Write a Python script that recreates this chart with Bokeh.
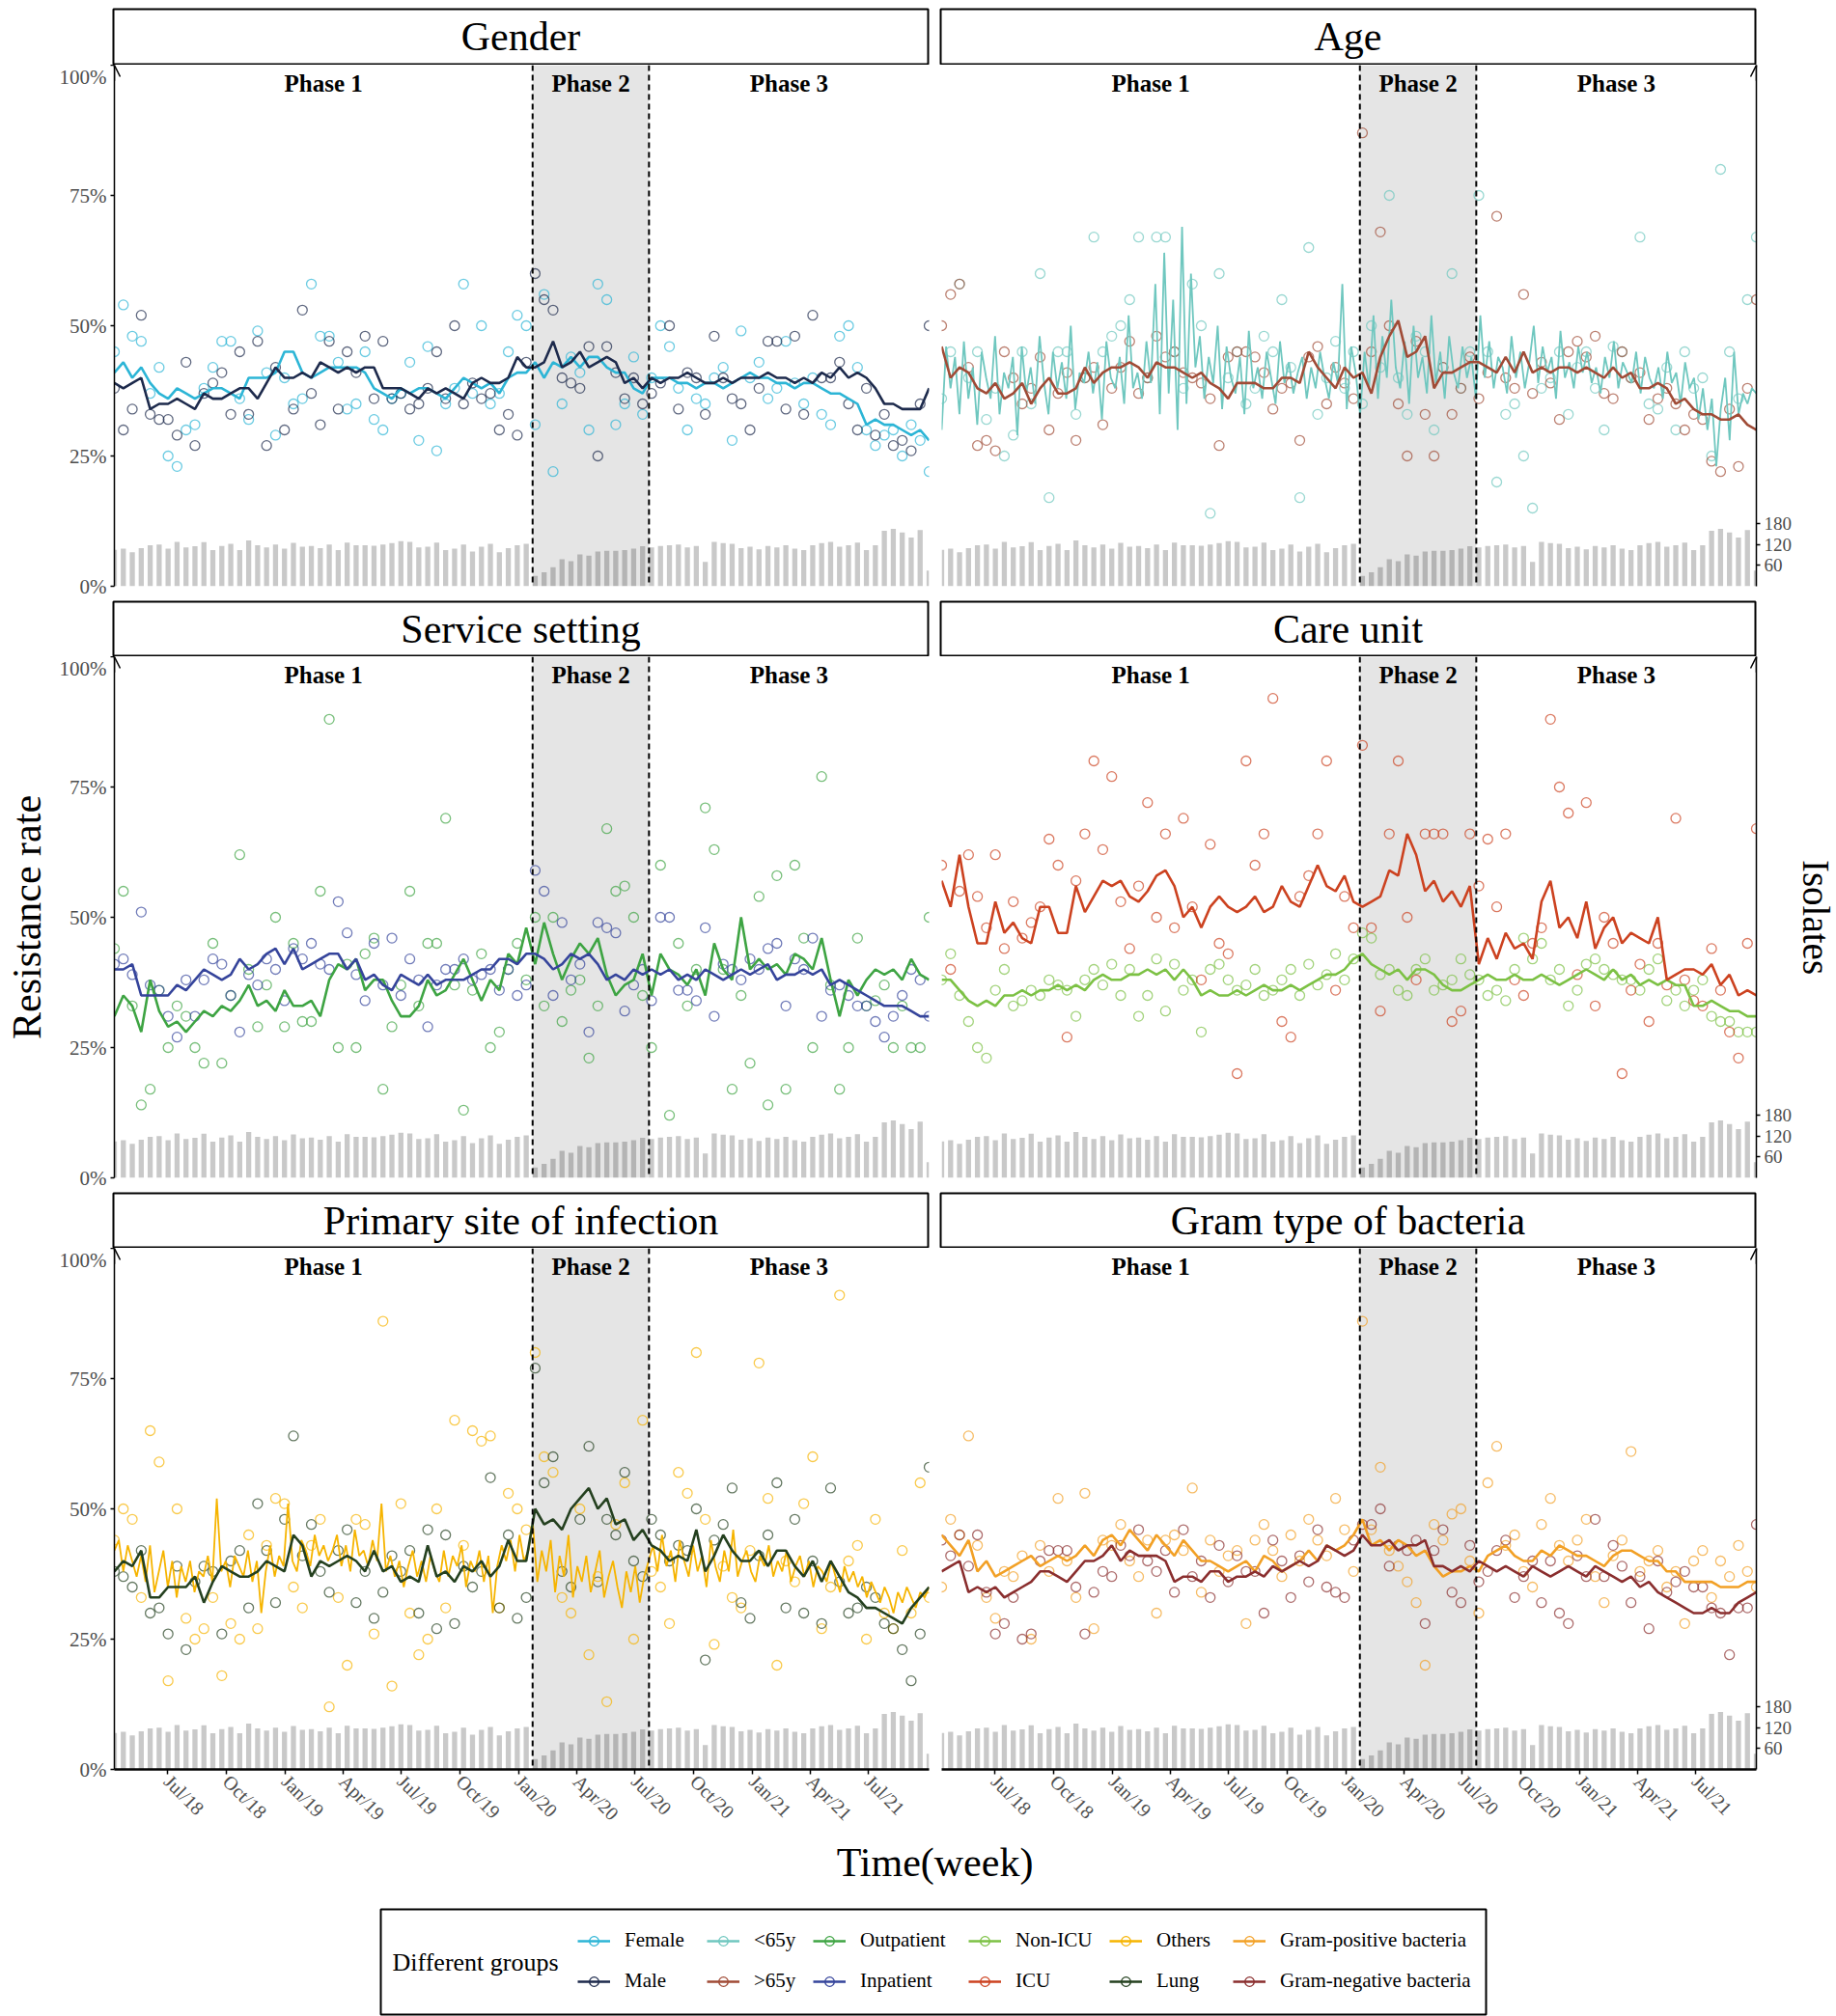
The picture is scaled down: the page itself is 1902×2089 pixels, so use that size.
import math
import pandas as pd
from bokeh.plotting import figure
from bokeh.layouts import row, column
from bokeh.models import (Range1d, LinearAxis, FixedTicker, Span, Arrow, OpenHead, Label,
                          Legend, LegendItem, NumeralTickFormatter, DatetimeTickFormatter,
                          BoxAnnotation, ColumnDataSource)
from bokeh.core.properties import value
from bokeh.embed import file_html
from bokeh.resources import INLINE

FONT = "Liberation Serif"

# ---------------- time axis ----------------
START_DATE = "2018-04-09"
N_PERIODS = 92            # two-week periods
PHASE2_START = "2020-01-23"
PHASE2_END = "2020-07-23"
PHASE_NAMES = ["Phase 1", "Phase 2", "Phase 3"]
TICK_DATES = ["2018-07-01", "2018-10-01", "2019-01-01", "2019-04-01", "2019-07-01",
              "2019-10-01", "2020-01-01", "2020-04-01", "2020-07-01", "2020-10-01",
              "2021-01-01", "2021-04-01", "2021-07-01"]
RATE_TICKS = [0, 0.25, 0.5, 0.75, 1.0]
ISOLATE_TICKS = [60, 120, 180]
ISOLATE_MAX = 1500

# ---------------- isolates (bars, shared) ----------------
BARS = ([105, 108, 98, 110, 118, 120, 108, 128, 112, 115,
         127, 104, 116, 122, 104, 132, 118, 112, 120, 108,
         125, 114, 116, 110, 120, 104, 126, 118, 118, 117,
         120, 124, 130, 128, 112, 114, 126, 104, 108, 120,
         100, 114, 122, 98, 110, 118, 122]
        + [30, 40, 55, 78, 72, 92, 88, 100, 102, 102, 104, 108, 115]
        + [112, 116, 118, 120, 112, 116, 70, 128, 124, 122,
           110, 114, 106, 116, 112, 118, 108, 104, 118, 124,
           128, 114, 118, 126, 104, 118, 160, 165, 155, 140,
           162, 45])

# ---------------- Gender ----------------
FEMALE_LINE = ([41, 43, 40, 42, 39, 37, 36, 38, 37, 36, 37, 38, 38, 37, 36, 40, 40, 40, 41, 45,
                45, 41, 40, 41, 42, 42, 42, 42, 41, 38, 37, 36, 38, 37, 38, 38, 37, 36, 38, 40,
                39, 38, 39, 37, 40, 41, 41]
               + [43, 40, 43, 42, 44, 42, 44, 44, 42, 41, 41, 38, 37]
               + [40, 40, 40, 39, 39, 38, 39, 39, 38, 39, 40, 41, 40, 40, 39, 39, 38, 39, 39, 38,
                  37, 37, 36, 35, 31, 32, 31, 31, 30, 29, 30, 28])
MALE_LINE = ([39, 38, 39, 40, 34, 35, 35, 36, 35, 34, 37, 36, 36, 37, 38, 38, 36, 39, 42, 40,
              40, 41, 40, 43, 42, 41, 42, 41, 42, 42, 38, 38, 38, 37, 36, 38, 37, 38, 37, 36,
              39, 40, 39, 39, 40, 44, 42]
             + [42, 43, 47, 42, 43, 45, 42, 43, 44, 43, 39, 40, 38]
             + [40, 39, 40, 40, 41, 40, 39, 39, 40, 39, 40, 40, 40, 41, 40, 40, 39, 40, 39, 41,
                40, 42, 40, 41, 40, 38, 35, 35, 34, 34, 34, 38])
FEMALE_PTS = ([45, 54, 48, 47, 37, 42, 25, 23, 30, 31, 38, 42, 47, 47, 36, 32, 49, 41, 29, 40,
               35, 36, 58, 48, 48, 43, 34, 35, 45, 32, 30, 36, 37, 43, 28, 46, 26, 35, 38, 58,
               37, 50, 35, 37, 45, 52, 50]
              + [31, 56, 22, 35, 44, 41, 30, 58, 55, 31, 35, 44, 33]
              + [40, 50, 46, 38, 30, 36, 35, 40, 42, 28, 49, 40, 43, 36, 38, 47, 39, 35, 40, 33,
                 31, 48, 50, 42, 30, 27, 29, 30, 25, 31, 28, 22])
MALE_PTS = ([38, 30, 34, 52, 33, 32, 32, 29, 43, 27, 37, 39, 41, 33, 45, 33, 47, 27, 42, 30,
             34, 53, 37, 31, 47, 34, 45, 41, 48, 36, 47, 36, 37, 34, 35, 38, 45, 36, 50, 35,
             39, 36, 37, 30, 33, 29, 43]
            + [60, 55, 53, 40, 39, 38, 46, 25, 46, 41, 36, 40, 35]
            + [37, 39, 50, 34, 41, 40, 33, 48, 40, 36, 35, 30, 38, 47, 47, 34, 48, 33, 52, 40,
               40, 43, 35, 30, 38, 29, 33, 27, 28, 26, 35, 50])

# ---------------- Age ----------------
LT65_LINE_WEEKLY = ([30, 46, 38, 44, 33, 47, 36, 42, 31, 45, 40, 36, 48, 33, 41, 38, 44, 29, 46, 37,
                     42, 35, 48, 39, 33, 45, 38, 43, 36, 50, 34, 41, 39, 45, 37, 43, 32, 47, 40, 38,
                     44, 35, 52, 38, 41, 36, 47, 39, 58, 33, 64, 37, 55, 30, 69, 35, 60, 42, 48, 36,
                     44, 39, 50, 34, 46, 40, 37, 44, 33, 49, 38, 42, 36, 45, 40, 35, 47, 39, 43, 37,
                     41, 44, 36, 42, 38, 45, 40, 36, 43, 39, 58, 34, 46, 41]
                    + [33, 45, 38, 52, 36, 48, 40, 55, 42, 38, 47, 35, 50, 40, 44, 37, 52, 39, 45, 36,
                       48, 41, 38, 46, 40, 44]
                    + [36, 52, 40, 47, 38, 44, 42, 37, 48, 40, 45, 38, 43, 50, 39, 46, 41, 44, 36, 49,
                       40, 43, 38, 46, 41, 45, 39, 42, 37, 44, 40, 47, 38, 43, 41, 39, 45, 37, 44, 40,
                       38, 42, 36, 45, 39, 41, 35, 43, 38, 40, 32, 38, 30, 36, 23, 34, 40, 28, 45, 33,
                       37, 35, 38, 37])
GT65_LINE = ([46, 40, 42, 41, 38, 37, 39, 36, 37, 39, 35, 38, 40, 37, 37, 38, 42, 39, 41, 42,
              42, 43, 42, 40, 43, 42, 42, 41, 40, 41, 39, 38, 36, 39, 39, 39, 38, 38, 40, 40,
              39, 45, 42, 40, 38, 42, 40]
             + [41, 37, 44, 48, 51, 44, 45, 48, 38, 41, 41, 42, 43]
             + [43, 42, 41, 44, 41, 45, 41, 42, 41, 42, 42, 41, 42, 41, 40, 42, 40, 41, 38, 38,
                39, 38, 35, 36, 34, 33, 33, 32, 32, 33, 31, 30])
LT65_PTS = ([36, 45, 58, 40, 45, 32, 38, 25, 29, 45, 35, 60, 17, 45, 45, 33, 40, 67, 45, 48,
             50, 55, 67, 40, 67, 67, 45, 38, 58, 50, 14, 60, 40, 45, 35, 38, 48, 45, 55, 42,
             17, 65, 33, 40, 47, 38, 45]
            + [35, 50, 42, 75, 40, 33, 48, 45, 30, 42, 60, 38, 45]
            + [75, 45, 20, 33, 35, 25, 15, 38, 40, 45, 33, 42, 45, 38, 30, 46, 45, 40, 67, 35,
               34, 42, 30, 45, 38, 40, 25, 80, 45, 36, 55, 67])
GT65_PTS = ([50, 56, 58, 42, 27, 28, 26, 45, 40, 35, 38, 44, 30, 37, 41, 28, 40, 42, 31, 38,
             42, 47, 37, 40, 48, 44, 45, 41, 40, 39, 36, 27, 44, 45, 45, 44, 41, 34, 38, 39,
             28, 44, 46, 35, 42, 39, 36]
            + [87, 45, 68, 50, 35, 25, 47, 33, 25, 42, 33, 38, 44]
            + [36, 41, 71, 40, 38, 56, 37, 43, 39, 32, 45, 47, 44, 48, 37, 36, 45, 40, 41, 32,
               36, 38, 35, 30, 33, 32, 24, 22, 34, 23, 38, 55])

# ---------------- Service setting ----------------
OUTPATIENT_LINE = ([31, 35, 33, 28, 38, 32, 29, 30, 28, 30, 32, 31, 33, 32, 34, 37, 33, 34, 32, 36,
                    33, 33, 34, 31, 38, 41, 40, 42, 36, 38, 38, 34, 31, 31, 33, 38, 35, 36, 39, 42,
                    38, 34, 38, 36, 43, 41, 48]
                   + [41, 49, 43, 38, 42, 45, 43, 46, 39, 35, 37, 38, 43]
                   + [35, 43, 40, 39, 37, 40, 35, 45, 40, 38, 50, 40, 42, 40, 41, 39, 43, 42, 40, 46,
                      38, 31, 38, 35, 38, 40, 39, 40, 38, 42, 39, 38])
INPATIENT_LINE = ([40, 40, 41, 35, 35, 35, 35, 37, 36, 38, 40, 39, 38, 39, 42, 40, 41, 43, 44, 41,
                   44, 40, 41, 42, 43, 43, 40, 42, 38, 39, 37, 36, 39, 38, 37, 39, 37, 38, 38, 38,
                   39, 40, 40, 42, 42, 41, 43]
                  + [43, 42, 40, 41, 43, 42, 43, 41, 38, 39, 38, 40, 39]
                  + [40, 39, 40, 38, 39, 38, 40, 39, 38, 39, 40, 39, 40, 41, 38, 39, 39, 40, 39, 40,
                     37, 38, 37, 36, 35, 34, 33, 33, 33, 32, 31, 31])
OUTPATIENT_PTS = ([44, 55, 33, 14, 17, 36, 25, 33, 31, 25, 22, 45, 22, 35, 62, 40, 29, 37, 50, 29,
                   45, 30, 30, 55, 88, 25, 41, 25, 43, 46, 17, 29, 37, 55, 33, 45, 45, 69, 37, 13,
                   36, 43, 25, 28, 40, 45, 38]
                  + [50, 33, 50, 30, 36, 38, 23, 33, 67, 55, 56, 50, 35]
                  + [25, 60, 12, 45, 33, 40, 71, 63, 40, 17, 35, 22, 54, 14, 58, 17, 60, 46, 25, 77,
                     37, 17, 25, 46, 33, 34, 37, 25, 33, 25, 25, 50])
INPATIENT_PTS = ([41, 42, 39, 51, 37, 36, 31, 27, 38, 31, 38, 42, 41, 35, 28, 39, 37, 42, 40, 34,
                  44, 42, 45, 41, 40, 53, 47, 39, 34, 45, 37, 46, 35, 42, 38, 29, 37, 40, 40, 42,
                  38, 39, 40, 36, 40, 35, 37]
                 + [59, 55, 35, 49, 38, 41, 28, 49, 48, 47, 32, 37, 40]
                 + [34, 50, 50, 36, 36, 34, 48, 31, 41, 40, 38, 42, 40, 44, 45, 33, 42, 40, 46, 31,
                    36, 37, 35, 33, 33, 30, 27, 31, 35, 40, 38, 31])

# ---------------- Care unit ----------------
NONICU_LINE = ([38, 38, 36, 34, 33, 34, 33, 35, 35, 36, 35, 36, 36, 37, 36, 37, 36, 38, 39, 38,
                38, 39, 39, 40, 39, 40, 38, 40, 38, 35, 36, 35, 35, 36, 35, 36, 37, 36, 36, 37,
                36, 37, 38, 39, 39, 40, 42]
               + [43, 41, 40, 39, 40, 38, 40, 40, 39, 37, 36, 36, 37]
               + [38, 39, 38, 38, 39, 38, 38, 39, 38, 37, 38, 39, 40, 39, 38, 40, 38, 39, 37, 38,
                  37, 38, 37, 37, 33, 33, 34, 33, 32, 32, 31, 31])
ICU_LINE = ([57, 52, 62, 52, 45, 45, 53, 47, 49, 46, 45, 52, 52, 47, 47, 56, 51, 54, 57, 56,
             57, 54, 53, 55, 58, 59, 56, 50, 52, 48, 52, 54, 52, 51, 52, 54, 51, 52, 56, 53,
             52, 56, 60, 56, 55, 58, 53]
            + [52, 53, 54, 59, 58, 66, 62, 55, 57, 53, 55, 52, 56]
            + [41, 46, 42, 47, 44, 45, 42, 53, 57, 48, 50, 46, 53, 44, 48, 50, 45, 47, 46, 45,
               50, 38, 39, 40, 40, 39, 41, 37, 39, 35, 36, 35])
NONICU_PTS = ([38, 43, 35, 30, 25, 23, 36, 40, 33, 34, 36, 35, 38, 37, 36, 31, 38, 40, 37, 41,
               35, 40, 31, 35, 42, 32, 41, 36, 38, 28, 40, 41, 38, 36, 37, 40, 35, 36, 38, 40,
               35, 41, 37, 39, 43, 38, 42]
              + [47, 46, 39, 40, 36, 35, 40, 42, 36, 37, 38, 42, 39]
              + [38, 35, 36, 34, 40, 46, 42, 45, 38, 40, 33, 36, 41, 42, 40, 39, 38, 38, 36, 40,
                 42, 34, 36, 33, 36, 38, 31, 30, 30, 28, 28, 28])
ICU_PTS = ([60, 40, 55, 62, 54, 48, 62, 44, 53, 46, 49, 52, 65, 60, 27, 57, 66, 80, 63, 77,
            53, 44, 56, 72, 50, 66, 48, 69, 52, 38, 64, 45, 43, 20, 80, 60, 66, 92, 30, 27,
            54, 58, 66, 80, 36, 54, 48]
           + [83, 48, 32, 66, 80, 50, 38, 66, 66, 66, 30, 32, 66]
           + [56, 65, 52, 66, 38, 35, 45, 48, 88, 75, 70, 39, 72, 33, 50, 45, 20, 36, 41, 30,
              45, 37, 69, 38, 34, 33, 44, 36, 28, 23, 45, 67])

# ---------------- Primary site of infection ----------------
OTHERS_LINE_WEEKLY = ([42, 44, 38, 43, 40, 37, 41, 36, 43, 34, 38, 42, 35, 40, 33, 39, 36, 40, 34, 38,
                       37, 41, 36, 52, 38, 40, 35, 41, 39, 37, 42, 36, 40, 30, 38, 43, 37, 41, 39, 51,
                       40, 38, 44, 42, 39, 45, 41, 43, 40, 42, 45, 39, 43, 38, 46, 41, 42, 39, 44, 40,
                       51, 38, 41, 37, 40, 35, 39, 42, 37, 40, 36, 41, 38, 36, 42, 37, 41, 39, 43, 35,
                       40, 38, 42, 36, 41, 30, 39, 43, 40, 44, 38, 45, 40, 42]
                      + [47, 36, 42, 38, 44, 34, 41, 37, 45, 33, 39, 36, 41, 34, 38, 42, 33, 37, 40, 35,
                         31, 38, 34, 39, 32, 37]
                      + [40, 43, 38, 45, 39, 42, 36, 44, 40, 37, 43, 38, 41, 35, 44, 39, 36, 42, 38, 46,
                         37, 40, 42, 38, 36, 41, 39, 43, 37, 40, 38, 42, 36, 39, 41, 37, 40, 35, 39, 38,
                         36, 40, 37, 34, 39, 36, 38, 35, 37, 33, 36, 34, 32, 35, 33, 30, 34, 32, 35, 33,
                         31, 34, 33, 35])
LUNG_LINE = ([38, 40, 39, 42, 33, 33, 35, 35, 35, 37, 32, 36, 39, 38, 37, 37, 38, 40, 39, 38,
              45, 43, 37, 40, 39, 40, 41, 40, 38, 42, 38, 39, 36, 37, 36, 43, 37, 38, 36, 39,
              38, 40, 37, 39, 44, 40, 40]
             + [50, 47, 48, 46, 50, 52, 54, 50, 52, 47, 48, 44, 46]
             + [43, 42, 40, 41, 40, 46, 38, 41, 45, 42, 40, 40, 42, 39, 42, 42, 39, 37, 40, 36,
                40, 37, 34, 33, 31, 31, 30, 29, 28, 31, 33, 35])
OTHERS_PTS = ([44, 50, 48, 33, 65, 59, 17, 50, 29, 25, 27, 33, 18, 28, 25, 45, 27, 43, 52, 51,
               35, 31, 43, 48, 12, 33, 20, 48, 47, 26, 86, 16, 51, 30, 22, 25, 50, 31, 67, 43,
               65, 63, 64, 31, 53, 50, 46]
              + [80, 60, 57, 33, 30, 50, 22, 37, 13, 47, 55, 25, 67]
              + [38, 35, 28, 57, 53, 80, 48, 24, 39, 33, 31, 42, 78, 52, 20, 40, 36, 51, 60, 27,
                 35, 91, 40, 43, 25, 48, 30, 27, 42, 30, 55, 33])
LUNG_PTS = ([38, 37, 35, 42, 30, 31, 26, 39, 23, 36, 39, 38, 26, 40, 42, 31, 51, 42, 32, 48,
             64, 41, 47, 38, 34, 42, 46, 32, 38, 29, 34, 41, 38, 42, 30, 46, 27, 45, 28, 39,
             35, 38, 56, 31, 45, 29, 33]
            + [77, 55, 60, 38, 35, 48, 62, 36, 48, 45, 57, 40, 37]
            + [48, 45, 40, 43, 42, 50, 21, 44, 47, 54, 32, 29, 41, 45, 55, 31, 48, 30, 40, 28,
               54, 36, 30, 31, 35, 33, 28, 27, 23, 17, 26, 58])

# ---------------- Gram type of bacteria ----------------
GRAMPOS_LINE = ([45, 43, 41, 44, 38, 40, 37, 38, 39, 40, 41, 39, 40, 41, 40, 41, 43, 41, 44, 45,
                 43, 46, 44, 42, 45, 43, 41, 44, 42, 40, 40, 39, 38, 39, 40, 38, 41, 40, 38, 39,
                 40, 42, 40, 43, 42, 43, 45]
                + [48, 43, 44, 42, 44, 43, 41, 42, 39, 37, 38, 38, 39]
                + [38, 41, 42, 43, 41, 40, 40, 42, 41, 43, 42, 41, 41, 40, 39, 41, 42, 42, 41, 40,
                   40, 38, 38, 36, 36, 36, 36, 35, 35, 35, 36, 36])
GRAMNEG_LINE = ([38, 39, 40, 34, 35, 34, 35, 33, 34, 35, 36, 38, 38, 37, 36, 38, 40, 40, 41, 43,
                 40, 42, 41, 41, 41, 40, 36, 37, 37, 36, 38, 38, 36, 37, 37, 38, 37, 39, 38, 39,
                 40, 39, 40, 43, 42, 41, 42]
                + [45, 43, 43, 44, 42, 43, 43, 44, 39, 39, 38, 39, 38]
                + [40, 39, 38, 39, 38, 37, 39, 38, 37, 38, 39, 38, 37, 39, 38, 37, 36, 37, 35, 36,
                   34, 33, 32, 31, 30, 30, 31, 30, 30, 32, 33, 34])
GRAMPOS_PTS = ([35, 48, 45, 64, 43, 33, 29, 38, 37, 41, 25, 43, 38, 52, 40, 33, 53, 27, 44, 43,
                47, 40, 37, 44, 30, 44, 45, 42, 54, 34, 44, 38, 41, 42, 28, 44, 47, 42, 37, 45,
                40, 48, 44, 41, 52, 46, 38]
               + [86, 46, 58, 42, 39, 36, 32, 20, 47, 44, 49, 50, 40]
               + [30, 55, 62, 43, 45, 38, 35, 47, 52, 43, 40, 44, 48, 37, 32, 41, 44, 61, 38, 40,
                  42, 35, 38, 28, 40, 42, 33, 40, 37, 43, 38, 35])
GRAMNEG_PTS = ([44, 41, 45, 39, 45, 34, 26, 28, 33, 25, 26, 40, 42, 42, 42, 35, 26, 34, 38, 37,
                43, 41, 46, 40, 38, 42, 34, 46, 37, 40, 33, 43, 36, 41, 38, 38, 30, 44, 40, 33,
                41, 36, 46, 35, 34, 33, 44]
               + [47, 47, 50, 39, 43, 42, 44, 28, 42, 46, 34, 32, 43]
               + [36, 38, 42, 44, 33, 37, 40, 32, 40, 30, 28, 41, 37, 48, 37, 43, 39, 32, 37, 27,
                  40, 34, 36, 38, 35, 35, 31, 30, 22, 31, 31, 47])

# (panel title, [(label, line values, point values, colour, weekly line?), ...])
PANELS = [
    ("Gender", [("Female", FEMALE_LINE, FEMALE_PTS, "#2cb5d6", False),
                ("Male", MALE_LINE, MALE_PTS, "#1d2a4c", False)]),
    ("Age", [("<65y", LT65_LINE_WEEKLY, LT65_PTS, "#6fc7bf", True),
             (">65y", GT65_LINE, GT65_PTS, "#a04b36", False)]),
    ("Service setting", [("Outpatient", OUTPATIENT_LINE, OUTPATIENT_PTS, "#3ea443", False),
                         ("Inpatient", INPATIENT_LINE, INPATIENT_PTS, "#35449b", False)]),
    ("Care unit", [("Non-ICU", NONICU_LINE, NONICU_PTS, "#7cc144", False),
                   ("ICU", ICU_LINE, ICU_PTS, "#cc4220", False)]),
    ("Primary site of infection", [("Others", OTHERS_LINE_WEEKLY, OTHERS_PTS, "#f6b400", True),
                                   ("Lung", LUNG_LINE, LUNG_PTS, "#24401f", False)]),
    ("Gram type of bacteria", [("Gram-positive bacteria", GRAMPOS_LINE, GRAMPOS_PTS, "#f2a025", False),
                               ("Gram-negative bacteria", GRAMNEG_LINE, GRAMNEG_PTS, "#8a2e2e", False)]),
]


def ms(t):
    return pd.Timestamp(t).value / 1e6


def fit(vals, n):
    vals = [v / 100.0 for v in list(vals)[:n]]
    return vals + [float("nan")] * (n - len(vals))


dates = pd.date_range(START_DATE, periods=N_PERIODS, freq="14D")
weekly_dates = pd.date_range(dates[0], dates[-1], periods=2 * N_PERIODS)
X0, X1 = ms(dates[0]), ms(dates[-1])
P2S, P2E = ms(PHASE2_START), ms(PHASE2_END)
BAR_WIDTH = 8 * 24 * 3600 * 1000

GREY_TXT = "#4d4d4d"
FRAME_W, FRAME_H = 844, 540
LEFT_B, MID_L, MID_R, RIGHT_B = 59, 6, 7, 38
LABEL_L_W, LABEL_R_W = 58, 44


def style_common(p):
    p.grid.visible = False
    p.outline_line_color = None
    p.background_fill_color = "white"
    p.border_fill_color = "white"


def make_strip(title, col, rowi):
    top_b = 9 if rowi == 0 else 1
    s = figure(x_range=Range1d(0, 1), y_range=Range1d(0, 1),
               frame_width=FRAME_W, frame_height=57 if rowi == 0 else 56,
               x_axis_location=None, y_axis_location=None,
               min_border_left=LEFT_B if col == 0 else MID_R,
               min_border_right=MID_L if col == 0 else RIGHT_B,
               min_border_top=top_b, min_border_bottom=1,
               output_backend="svg", toolbar_location=None)
    style_common(s)
    s.outline_line_color = "black"
    s.outline_line_width = 2
    s.add_layout(Label(x=0.5, y=0.5, text=title, text_align="center", text_baseline="middle",
                       text_font=FONT, text_font_size="42px", text_color="black"))
    return s


def make_panel(series, col, rowi):
    left = col == 0
    bottom = rowi == 2
    p = figure(x_axis_type="datetime", x_range=Range1d(X0, X1), y_range=Range1d(0, 1),
               frame_width=FRAME_W, frame_height=FRAME_H,
               x_axis_location="below" if bottom else None,
               y_axis_location="left" if left else None,
               min_border_left=LEFT_B if left else MID_R,
               min_border_right=MID_L if left else RIGHT_B,
               min_border_top=0, min_border_bottom=63 if bottom else 15,
               output_backend="svg", toolbar_location=None)
    style_common(p)
    p.extra_y_ranges = {"iso": Range1d(0, ISOLATE_MAX)}

    # isolates bars
    p.vbar(x=dates, top=BARS[:N_PERIODS], bottom=0, width=BAR_WIDTH, y_range_name="iso",
           fill_color="#c9c9c9", line_color=None)
    # phase 2 shading
    p.quad(left=[P2S], right=[P2E], bottom=[0], top=[1], fill_color="black", fill_alpha=0.1,
           line_color=None)

    for label, line_vals, pts, colr, weekly in series:
        src = ColumnDataSource(dict(x=dates, y=fit(pts, N_PERIODS)))
        p.scatter("x", "y", source=src, marker="circle", size=10, fill_color=None,
                  line_color=colr, line_alpha=0.7, line_width=1.3)
    for label, line_vals, pts, colr, weekly in series:
        if weekly:
            xs, ys, lw = weekly_dates, fit(line_vals, 2 * N_PERIODS), 1.8
        else:
            xs, ys, lw = dates, fit(line_vals, N_PERIODS), 2.6
        p.line(x=xs, y=ys, line_color=colr, line_width=lw)

    for loc in (P2S, P2E):
        p.add_layout(Span(location=loc, dimension="height", line_color="black",
                          line_dash="6 4", line_width=2))

    mids = [(X0 + P2S) / 2, (P2S + P2E) / 2, (P2E + X1) / 2]
    p.text(x=mids, y=[0.965] * 3, text=PHASE_NAMES, text_font=value(FONT),
           text_font_style="bold", text_font_size="25px", text_align="center",
           text_baseline="middle", text_color="black")

    if left:
        ax = p.yaxis[0]
        ax.ticker = FixedTicker(ticks=RATE_TICKS)
        ax.formatter = NumeralTickFormatter(format="0%")
        ax.axis_line_width = 1.5
        ax.major_tick_line_width = 1.5
        ax.major_tick_out = 4
        ax.major_tick_in = 0
        ax.minor_tick_out = 0
        ax.minor_tick_in = 0
        ax.major_label_standoff = 4
        ax.major_label_text_font = FONT
        ax.major_label_text_font_size = "21px"
        ax.major_label_text_color = GREY_TXT
        p.add_layout(Arrow(end=OpenHead(size=12, line_width=1.5), x_start=X0, y_start=0.97,
                           x_end=X0, y_end=1.0, line_width=1.5))
    else:
        rax = LinearAxis(y_range_name="iso", ticker=FixedTicker(ticks=ISOLATE_TICKS))
        rax.axis_line_width = 1.5
        rax.major_tick_line_width = 1.5
        rax.major_tick_out = 4
        rax.major_tick_in = 0
        rax.minor_tick_out = 0
        rax.minor_tick_in = 0
        rax.major_label_standoff = 4
        rax.major_label_text_font = FONT
        rax.major_label_text_font_size = "19px"
        rax.major_label_text_color = GREY_TXT
        p.add_layout(rax, "right")
        p.add_layout(Arrow(end=OpenHead(size=12, line_width=1.5), x_start=X1, y_start=0.97,
                           x_end=X1, y_end=1.0, line_width=1.5))

    if bottom:
        xa = p.xaxis[0]
        xa.ticker = FixedTicker(ticks=[ms(d) for d in TICK_DATES])
        xa.formatter = DatetimeTickFormatter(days="%b/%y", months="%b/%y", years="%b/%y")
        xa.major_label_orientation = -math.pi / 4
        xa.axis_line_width = 2.5
        xa.major_tick_line_width = 1.5
        xa.major_tick_out = 5
        xa.major_tick_in = 0
        xa.minor_tick_out = 0
        xa.minor_tick_in = 0
        xa.major_label_standoff = 4
        xa.major_label_text_font = FONT
        xa.major_label_text_font_size = "20px"
        xa.major_label_text_color = GREY_TXT
    return p


rows = []
for r in range(3):
    tl, sl = PANELS[2 * r]
    tr, sr = PANELS[2 * r + 1]
    rows.append(row(make_strip(tl, 0, r), make_strip(tr, 1, r)))
    rows.append(row(make_panel(sl, 0, r), make_panel(sr, 1, r)))
main = column(*rows)

MAIN_H = 67 + 555 + 58 + 555 + 58 + 603
MID_Y = MAIN_H - 950          # vertical centre of the middle row, from the bottom


def label_fig(w):
    f = figure(width=w, height=MAIN_H, x_range=Range1d(0, w), y_range=Range1d(0, MAIN_H),
               x_axis_location=None, y_axis_location=None, min_border_left=0,
               min_border_right=0, min_border_top=0, min_border_bottom=0,
               output_backend="svg", toolbar_location=None)
    style_common(f)
    return f


ylab = label_fig(LABEL_L_W)
ylab.add_layout(Label(x=27, y=MID_Y, text="Resistance rate", angle=math.pi / 2,
                      text_align="center", text_baseline="middle", text_font=FONT,
                      text_font_size="42px", text_color="black"))
rlab = label_fig(LABEL_R_W)
rlab.add_layout(Label(x=22, y=MID_Y, text="Isolates", angle=-math.pi / 2,
                      text_align="center", text_baseline="middle", text_font=FONT,
                      text_font_size="39px", text_color="black"))

FOOT_W, FOOT_H = LABEL_L_W + LEFT_B + FRAME_W + MID_L + MID_R + FRAME_W + RIGHT_B + LABEL_R_W, 188
foot = figure(width=FOOT_W, height=FOOT_H, x_range=Range1d(0, FOOT_W), y_range=Range1d(0, FOOT_H),
              x_axis_location=None, y_axis_location=None, min_border_left=0, min_border_right=0,
              min_border_top=0, min_border_bottom=0, output_backend="svg", toolbar_location=None)
style_common(foot)
foot.add_layout(Label(x=968, y=160, text="Time(week)", text_align="center", text_baseline="middle",
                      text_font=FONT, text_font_size="42px", text_color="black"))
foot.add_layout(BoxAnnotation(left=394, right=1539, bottom=2, top=111, fill_color=None,
                              fill_alpha=0, line_color="black", line_width=2, line_alpha=1))
foot.add_layout(Label(x=406, y=56, text="Different groups", text_align="left",
                      text_baseline="middle", text_font=FONT, text_font_size="26px",
                      text_color="black"))

LEGEND_X = [598, 732, 842, 1003, 1149, 1277]
NAN = float("nan")
for k in range(6):
    items = []
    _, ser = PANELS[k]
    for label, _, _, colr, _ in ser:
        rl = foot.line(x=[NAN], y=[NAN], line_color=colr, line_width=2.5)
        rp = foot.scatter(x=[NAN], y=[NAN], marker="circle", size=9, fill_color=None,
                          line_color=colr, line_width=1.3)
        items.append(LegendItem(label=label, renderers=[rl, rp]))
    leg = Legend(items=items, location=(LEGEND_X[k], 24), orientation="vertical",
                 glyph_width=34, glyph_height=24, label_height=24, label_standoff=15,
                 spacing=17, padding=0, margin=0, border_line_color=None,
                 background_fill_alpha=0, label_text_font=FONT, label_text_font_size="21px",
                 label_text_color="black")
    foot.add_layout(leg)

page = column(row(ylab, main, rlab), foot)
open("out.html", "w").write(file_html(page, INLINE, title="Resistance rate"))
